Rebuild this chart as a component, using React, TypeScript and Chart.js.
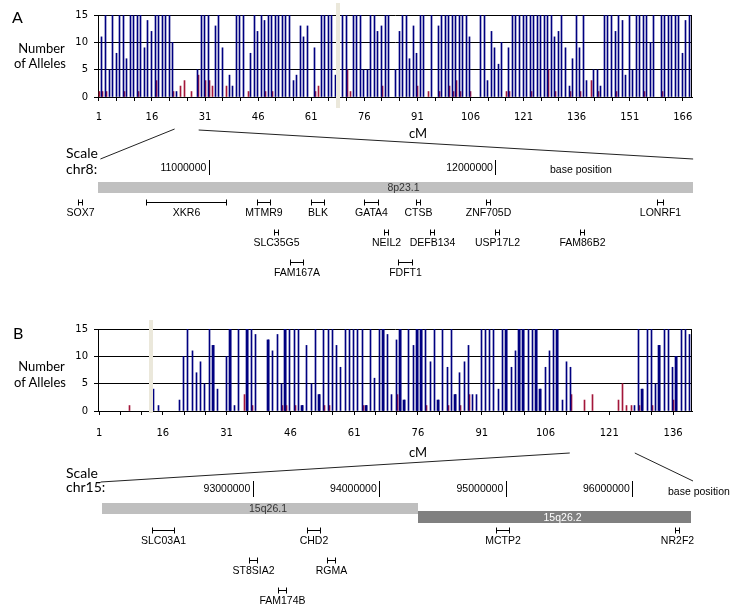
import React, { useEffect, useRef } from "react";
import { Chart, registerables } from "chart.js";

Chart.register(...registerables);

const NAVY = "#000080";
const RED = "#a3173a";
const MARKER = "#ebe8db";
const CAL = "Lato, 'Open Sans', sans-serif";
const ARIAL = "'Liberation Sans', Arial, sans-serif";
const TAHOMA = "'DejaVu Sans', Verdana, sans-serif";

// ---------------- Panel A (chr8) : number of alleles per cM position 1..168 ----------------
const blueA = [
  0, 11, 15, 5, 15, 8, 15, 15, 7, 15,
  15, 15, 15, 9, 14, 12, 15, 15, 15, 15,
  15, 10, 1, 0, 0, 0, 0, 0, 5, 15,
  15, 15, 0, 13, 15, 9, 0, 4, 2, 15,
  15, 15, 0, 8, 15, 12, 15, 14, 15, 15,
  15, 15, 15, 15, 15, 3, 4, 13, 11, 13,
  0, 9, 0, 15, 15, 15, 15, 4, 0, 15,
  15, 0, 15, 15, 15, 5, 5, 15, 15, 12,
  13, 15, 15, 0, 5, 12, 15, 15, 7, 13,
  8, 15, 15, 0, 15, 0, 13, 15, 15, 15,
  15, 15, 15, 15, 15, 11, 0, 0, 15, 15,
  3, 12, 9, 6, 10, 0, 9, 15, 15, 15,
  15, 15, 15, 15, 15, 15, 15, 15, 15, 11,
  12, 15, 9, 2, 7, 15, 9, 15, 3, 0,
  5, 5, 2, 15, 15, 15, 12, 15, 14, 4,
  15, 5, 15, 15, 15, 15, 10, 15, 0, 15,
  15, 15, 15, 15, 15, 8, 14, 15,
];
const redPosA = [1, 2, 3, 8, 12, 17, 22, 24, 25, 27, 29, 31, 32, 33, 37, 43, 48, 50, 62, 63, 71, 72, 81, 91, 94, 97, 100, 101, 102, 103, 106, 116, 117, 123, 128, 130, 134, 137, 140, 142, 147, 155, 160];
const redValA = [1, 1, 1, 1, 1, 3, 1, 2, 3, 1, 4, 3, 3, 2, 2, 1, 1, 1, 1, 2, 5, 1, 2, 2, 1, 1, 2, 1, 3, 1, 1, 1, 1, 1, 5, 1, 1, 1, 3, 1, 1, 1, 1];
const xLabelsA = [1, 16, 31, 46, 61, 76, 91, 106, 121, 136, 151, 166];
const xRangeA = [0.75, 168.6];
const markerCmA = 68.6;
const zoomCmA = [22.4, 29.2];

// ---------------- Panel B (chr15) : number of alleles per cM position 1..140 ----------------
const blueB = [
  0, 0, 0, 0, 0, 0, 0, 0, 0, 0,
  0, 0, 0, 4, 1, 0, 0, 0, 0, 2,
  10, 15, 11, 7, 9, 5, 15, 12, 4, 0,
  10, 15, 1, 15, 0, 15, 15, 14, 0, 0,
  13, 11, 14, 5, 15, 15, 15, 15, 1, 12,
  5, 15, 3, 15, 15, 15, 12, 8, 15, 15,
  15, 15, 15, 1, 15, 6, 15, 15, 14, 3,
  13, 15, 2, 15, 12, 15, 15, 15, 9, 15,
  2, 15, 8, 15, 3, 7, 9, 12, 3, 3,
  15, 15, 15, 15, 4, 15, 15, 8, 11, 15,
  15, 15, 15, 15, 4, 8, 11, 15, 15, 2,
  9, 8, 0, 0, 0, 0, 0, 0, 0, 0,
  0, 0, 0, 0, 0, 0, 1, 15, 4, 15,
  15, 5, 12, 15, 15, 8, 10, 15, 15, 14,
];
const widePosB = [28, 32, 36, 41, 45, 49, 53, 64, 68, 72, 73, 76, 77, 81, 85, 97, 100, 101, 104, 105, 109, 129, 133, 137];
const redPosB = [8, 35, 37, 44, 45, 47, 54, 55, 63, 71, 78, 83, 86, 88, 112, 115, 117, 123, 124, 125, 126, 128, 131, 136];
const redValB = [1, 3, 1, 1, 1, 1, 1, 1, 1, 3, 1, 1, 1, 3, 3, 2, 3, 2, 5, 1, 1, 1, 1, 2];
const xLabelsB = [1, 16, 31, 46, 61, 76, 91, 106, 121, 136];
const xRangeB = [0.75, 140.45];
const markerCmB = 13.1;
const zoomCmB = [111.7, 127];

// ---------------- Gene track A (chr8 base positions) ----------------
const scaleTicksA = [11000000, 12000000];
const trackRangeA = [10479000, 12712000];
const cytoNameA = ["8p23.1"];
const cytoStartA = [10613000];
const cytoEndA = [12688000];
const cytoRowA = [0.51];
const cytoColorA = ["#c0c0c0"];
const cytoTextA = ["#333333"];
const cytoThickA = [11];
const geneNameA = ["SOX7", "XKR6", "MTMR9", "BLK", "GATA4", "CTSB", "ZNF705D", "LONRF1", "SLC35G5", "NEIL2", "DEFB134", "USP17L2", "FAM86B2", "FAM167A", "FDFT1"];
const geneStartA = [10545000, 10782000, 11169000, 11357000, 11543000, 11722000, 11966000, 12563000, 11226000, 11612000, 11772000, 11998000, 12294000, 11284000, 11661000];
const geneEndA = [10559000, 11061000, 11213000, 11401000, 11590000, 11736000, 11980000, 12586000, 11240000, 11626000, 11786000, 12012000, 12308000, 11330000, 11708000];
const geneRowA = [1, 1, 1, 1, 1, 1, 1, 1, 2, 2, 2, 2, 2, 3, 3];

// ---------------- Gene track B (chr15 base positions) ----------------
const scaleTicksB = [93000000, 94000000, 95000000, 96000000];
const trackRangeB = [91471600, 96532000];
const cytoNameB = ["15q26.1", "15q26.2"];
const cytoStartB = [91801000, 94300000];
const cytoEndB = [94300000, 96461000];
const cytoRowB = [0.277, 0.552];
const cytoColorB = ["#bfbfbf", "#808080"];
const cytoTextB = ["#333333", "#ffffff"];
const cytoThickB = [11, 12];
const geneNameB = ["SLC03A1", "CHD2", "MCTP2", "NR2F2", "ST8SIA2", "RGMA", "FAM174B"];
const geneStartB = [92201000, 93427000, 94925000, 96337000, 92968000, 93585000, 93201000];
const geneEndB = [92375000, 93533000, 95024000, 96368000, 93035000, 93648000, 93264000];
const geneRowB = [1, 1, 1, 1, 2, 2, 3];

// canvas placement on the page
const BAR_A = { top: 0, h: 130 };
const TRACK_A = { top: 130, h: 160 };
const BAR_B = { top: 310, h: 135 };
const TRACK_B = { top: 445, h: 169 };

const snapBars = {
  id: "snapBars",
  beforeDatasetsDraw(chart: any) {
    chart.data.datasets.forEach((_: any, i: number) => {
      chart.getDatasetMeta(i).data.forEach((el: any) => {
        const w = Math.max(1, Math.round(el.width));
        const left = Math.round(el.x - el.width / 2);
        el.width = w;
        el.x = left + w / 2;
      });
    });
  },
};

const plotFrame = {
  id: "plotFrame",
  afterDraw(chart: any, _a: any, opts: any) {
    const { ctx, chartArea: a } = chart;
    ctx.save();
    ctx.strokeStyle = "#000";
    ctx.lineWidth = 1;
    const xr = Math.round(a.right) - 0.5;
    ctx.beginPath();
    ctx.moveTo(xr, a.top);
    ctx.lineTo(xr, a.bottom);
    ctx.stroke();
    const xp = chart.scales.x.getPixelForValue(opts.markerCm);
    ctx.fillStyle = MARKER;
    ctx.fillRect(Math.round(xp - 2), a.top - opts.above, 4, a.bottom - a.top + opts.above + opts.below);
    ctx.restore();
  },
};

const snapPoints = {
  id: "snapPoints",
  beforeDatasetsDraw(chart: any) {
    chart.data.datasets.forEach((ds: any, i: number) => {
      const w = ds.borderWidth || 1;
      chart.getDatasetMeta(i).data.forEach((pt: any) => {
        pt.x = ds.kind === "band" ? Math.round(pt.x) : Math.floor(pt.x) + 0.5;
        pt.y = w % 2 ? Math.floor(pt.y) + 0.5 : Math.round(pt.y);
      });
    });
  },
};

const trackText = {
  id: "trackText",
  afterDatasetsDraw(chart: any) {
    const ctx = chart.ctx;
    chart.data.datasets.forEach((ds: any, i: number) => {
      if (!ds.text) return;
      const [p0, p1] = chart.getDatasetMeta(i).data;
      ctx.save();
      ctx.font = ds.textFont;
      ctx.fillStyle = ds.textColor;
      ctx.textAlign = "center";
      ctx.textBaseline = "middle";
      ctx.fillText(ds.text, (p0.x + p1.x) / 2 + ds.textDx, p0.y + ds.textDy);
      ctx.restore();
    });
  },
};

function barConfig(p: any): any {
  const marks: number[] = [];
  for (let v = 1; v <= p.range[1]; v += 5) marks.push(v);
  const datasets: any[] = [
    {
      data: p.blue.map((v: number, i: number) => ({ x: i + 1, y: v })).filter((d: any) => d.y > 0),
      backgroundColor: NAVY, barThickness: 1, stack: "b", borderWidth: 0,
    },
    {
      data: p.redPos.map((x: number, i: number) => ({ x, y: p.redVal[i] })),
      backgroundColor: RED, barThickness: 1, stack: "r", borderWidth: 0,
    },
  ];
  if (p.wide) {
    datasets.push({
      data: p.wide.map((x: number) => ({ x, y: p.blue[x - 1] })),
      backgroundColor: NAVY, barThickness: 2, stack: "b", borderWidth: 0,
    });
  }
  const tickFont = { family: TAHOMA, size: 10 };
  return {
    type: "bar",
    data: { datasets },
    options: {
      responsive: false,
      animation: false,
      events: [],
      layout: { padding: { top: p.padTop, right: 43, left: 0, bottom: 0 } },
      plugins: {
        legend: { display: false },
        tooltip: { enabled: false },
        plotFrame: { markerCm: p.markerCm, above: p.above, below: p.below },
      },
      scales: {
        x: {
          type: "linear",
          min: p.range[0],
          max: p.range[1],
          offset: false,
          grid: { display: true, drawOnChartArea: false, drawTicks: true, tickLength: 4, color: "#000", offset: false },
          border: { display: true, color: "#000" },
          ticks: {
            autoSkip: false,
            maxRotation: 0,
            padding: p.tickPad,
            font: tickFont,
            color: "#000",
            callback: (v: number) => (p.labels.includes(v) ? String(v) : ""),
          },
          afterBuildTicks: (ax: any) => {
            ax.ticks = marks.map((value) => ({ value }));
          },
          afterFit: (s: any) => {
            s.height = p.axisH;
          },
        },
        y: {
          type: "linear",
          min: 0,
          max: 15,
          stacked: false,
          ticks: { stepSize: 5, padding: 6, font: tickFont, color: "#000" },
          grid: { color: "#000", tickLength: 4 },
          border: { display: true, color: "#000" },
          afterFit: (s: any) => {
            s.width = 98;
          },
        },
      },
    },
    plugins: [snapBars, plotFrame],
  };
}

function trackConfig(p: any): any {
  const datasets: any[] = [];
  p.cytoName.forEach((name: string, i: number) =>
    datasets.push({
      kind: "band",
      data: [
        { x: p.cytoStart[i], y: p.cytoRow[i] },
        { x: p.cytoEnd[i], y: p.cytoRow[i] },
      ],
      showLine: true,
      borderColor: p.cytoColor[i],
      borderWidth: p.cytoThick[i],
      borderCapStyle: "butt",
      pointRadius: 0,
      clip: false,
      text: name,
      textFont: `10.5px ${ARIAL}`,
      textColor: p.cytoText[i],
      textDx: 8,
      textDy: 1,
    })
  );
  p.geneName.forEach((name: string, i: number) =>
    datasets.push({
      kind: "gene",
      data: [
        { x: p.geneStart[i], y: p.geneRow[i] },
        { x: p.geneEnd[i], y: p.geneRow[i] },
      ],
      showLine: true,
      borderColor: "#000",
      borderWidth: 1,
      pointStyle: "line",
      pointRotation: 90,
      pointRadius: 3,
      pointBorderWidth: 1,
      pointBorderColor: "#000",
      pointBackgroundColor: "#000",
      clip: false,
      text: name,
      textFont: `10.5px ${ARIAL}`,
      textColor: "#000",
      textDx: 0,
      textDy: 10.7,
    })
  );
  return {
    type: "scatter",
    data: { datasets },
    options: {
      responsive: false,
      animation: false,
      events: [],
      layout: { padding: { left: 60, right: 35, top: 0, bottom: 0 } },
      plugins: { legend: { display: false }, tooltip: { enabled: false } },
      scales: {
        x: {
          type: "linear",
          position: "top",
          min: p.range[0],
          max: p.range[1],
          grid: { display: true, drawOnChartArea: false, drawTicks: true, tickLength: p.tickLen, color: "#000" },
          border: { display: false },
          ticks: {
            align: "end",
            labelOffset: -3,
            padding: p.tickPad,
            autoSkip: false,
            maxRotation: 0,
            font: { family: ARIAL, size: 10.5 },
            color: "#000",
            callback: (v: number) => String(v),
          },
          afterBuildTicks: (ax: any) => {
            ax.ticks = p.ticks.map((value: number) => ({ value }));
          },
          afterFit: (s: any) => {
            s.height = p.axisH;
          },
        },
        y: { type: "linear", display: false, reverse: true, min: p.yRange[0], max: p.yRange[1] },
      },
    },
    plugins: [snapPoints, trackText],
  };
}

type TxtProps = { x: number; y: number; text: string; size: number; family: string; center?: boolean; color?: string };
function Txt({ x, y, text, size, family, center = false, color = "#000" }: TxtProps) {
  return (
    <div
      style={{
        position: "absolute",
        left: x,
        top: y,
        transform: `translate(${center ? "-50%" : "0"}, -50%)`,
        fontFamily: family,
        fontSize: size,
        lineHeight: 1,
        whiteSpace: "nowrap",
        color,
      }}
    >
      {text}
    </div>
  );
}

const canvasStyle = (top: number, h: number): React.CSSProperties => ({
  position: "absolute",
  left: 0,
  top,
  width: 735,
  height: h,
});

export default function App() {
  const barARef = useRef<HTMLCanvasElement>(null);
  const trackARef = useRef<HTMLCanvasElement>(null);
  const barBRef = useRef<HTMLCanvasElement>(null);
  const trackBRef = useRef<HTMLCanvasElement>(null);
  const svgRef = useRef<SVGSVGElement>(null);

  useEffect(() => {
    const barA = new Chart(
      barARef.current!,
      barConfig({ blue: blueA, redPos: redPosA, redVal: redValA, range: xRangeA, labels: xLabelsA, padTop: 15, axisH: 33, tickPad: 10, markerCm: markerCmA, above: 12, below: 11 })
    );
    const barB = new Chart(
      barBRef.current!,
      barConfig({ blue: blueB, wide: widePosB, redPos: redPosB, redVal: redValB, range: xRangeB, labels: xLabelsB, padTop: 19, axisH: 34, tickPad: 12, markerCm: markerCmB, above: 9, below: 2 })
    );
    const trackA = new Chart(
      trackARef.current!,
      trackConfig({
        range: trackRangeA, ticks: scaleTicksA, axisH: 45, tickLen: 15, tickPad: -14.8, yRange: [0.107, 3.735],
        cytoName: cytoNameA, cytoStart: cytoStartA, cytoEnd: cytoEndA, cytoRow: cytoRowA, cytoColor: cytoColorA, cytoText: cytoTextA, cytoThick: cytoThickA,
        geneName: geneNameA, geneStart: geneStartA, geneEnd: geneEndA, geneRow: geneRowA,
      })
    );
    const trackB = new Chart(
      trackBRef.current!,
      trackConfig({
        range: trackRangeB, ticks: scaleTicksB, axisH: 52, tickLen: 16, tickPad: -14.6, yRange: [-0.095, 3.596],
        cytoName: cytoNameB, cytoStart: cytoStartB, cytoEnd: cytoEndB, cytoRow: cytoRowB, cytoColor: cytoColorB, cytoText: cytoTextB, cytoThick: cytoThickB,
        geneName: geneNameB, geneStart: geneStartB, geneEnd: geneEndB, geneRow: geneRowB,
      })
    );
    const charts = [barA, barB, trackA, trackB];

    const lines = svgRef.current!.querySelectorAll("line");
    const setLine = (el: Element, x1: number, y1: number, x2: number, y2: number) => {
      el.setAttribute("x1", String(x1));
      el.setAttribute("y1", String(y1));
      el.setAttribute("x2", String(x2));
      el.setAttribute("y2", String(y2));
    };
    const yA = TRACK_A.top + trackA.chartArea.top - 16;
    setLine(lines[0], trackA.scales.x.getPixelForValue(cytoStartA[0]) + 2, yA, barA.scales.x.getPixelForValue(zoomCmA[0]), 129);
    setLine(lines[1], trackA.scales.x.getPixelForValue(cytoEndA[0]), yA, barA.scales.x.getPixelForValue(zoomCmA[1]), 130);
    const yB = TRACK_B.top + trackB.chartArea.top - 16;
    setLine(lines[2], trackB.scales.x.getPixelForValue(cytoStartB[0]) - 1, yB + 1, barB.scales.x.getPixelForValue(zoomCmB[0]), 453);
    setLine(lines[3], trackB.scales.x.getPixelForValue(cytoEndB[1]) + 2, yB, barB.scales.x.getPixelForValue(zoomCmB[1]), 453);

    return () => charts.forEach((c) => c.destroy());
  }, []);

  return (
    <div style={{ position: "absolute", left: 0, top: 0, width: 735, height: 614, background: "#fff", overflow: "hidden" }}>
      <canvas ref={barARef} width={735} height={BAR_A.h} style={canvasStyle(BAR_A.top, BAR_A.h)} />
      <canvas ref={trackARef} width={735} height={TRACK_A.h} style={canvasStyle(TRACK_A.top, TRACK_A.h)} />
      <canvas ref={barBRef} width={735} height={BAR_B.h} style={canvasStyle(BAR_B.top, BAR_B.h)} />
      <canvas ref={trackBRef} width={735} height={TRACK_B.h} style={canvasStyle(TRACK_B.top, TRACK_B.h)} />
      <svg ref={svgRef} width={735} height={614} style={{ position: "absolute", left: 0, top: 0, pointerEvents: "none" }}>
        <line stroke="#222" strokeWidth={1} />
        <line stroke="#222" strokeWidth={1} />
        <line stroke="#222" strokeWidth={1} />
        <line stroke="#222" strokeWidth={1} />
      </svg>

      <Txt x={12} y={17} text="A" size={16} family={CAL} />
      <Txt x={41.5} y={47.7} text="Number" size={13} family={CAL} center />
      <Txt x={40} y={63.3} text="of Alleles" size={13} family={CAL} center />
      <Txt x={418} y={133} text="cM" size={13} family={CAL} center />
      <Txt x={66} y={153} text="Scale" size={14} family={CAL} />
      <Txt x={66} y={169} text="chr8:" size={14} family={CAL} />
      <Txt x={550} y={169.3} text="base position" size={10.5} family={ARIAL} />

      <Txt x={13} y={333} text="B" size={16} family={CAL} />
      <Txt x={41.5} y={366} text="Number" size={13} family={CAL} center />
      <Txt x={40} y={381.7} text="of Alleles" size={13} family={CAL} center />
      <Txt x={418} y={451.7} text="cM" size={13} family={CAL} center />
      <Txt x={66} y={472.7} text="Scale" size={14} family={CAL} />
      <Txt x={66} y={486.7} text="chr15:" size={14} family={CAL} />
      <Txt x={668} y={490.7} text="base position" size={10.5} family={ARIAL} />
    </div>
  );
}
